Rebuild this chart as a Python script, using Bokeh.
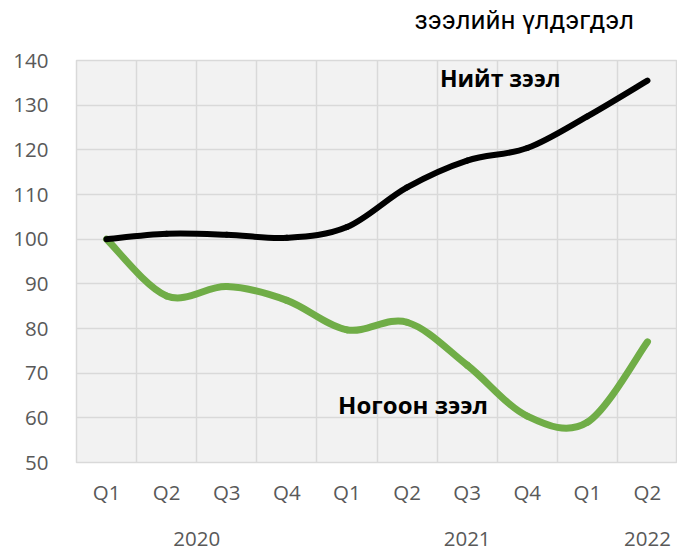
import numpy as np
from bokeh.plotting import figure
from bokeh.models import (Range1d, FixedTicker, LinearAxis, Label, ColumnDataSource)
from bokeh.embed import file_html
from bokeh.resources import INLINE

# ---- data ----
quarters = ["Q1", "Q2", "Q3", "Q4", "Q1", "Q2", "Q3", "Q4", "Q1", "Q2"]
years = ["2020", "2021", "2022"]
year_pos = [2.0, 6.5, 9.5]
total_loans = [100, 101.2, 101.0, 100.3, 102.7, 111.6, 117.6, 120.4, 127.5, 135.5]
green_loans = [100, 87.3, 89.4, 86.3, 79.7, 81.4, 71.8, 60.4, 59.0, 77.0]
title_text = "зээлийн үлдэгдэл"
title_pos = 7.45
label_total = "Нийт зээл"
label_green = "Ногоон зээл"

xs = np.arange(len(quarters)) + 0.5


def smooth_segments(x, y):
    x = np.asarray(x, float)
    y = np.asarray(y, float)
    n = len(y)
    d = dict(x0=[], y0=[], x1=[], y1=[], cx0=[], cy0=[], cx1=[], cy1=[])
    for i in range(n - 1):
        im = max(i - 1, 0)
        ip = min(i + 2, n - 1)
        d["x0"].append(x[i]); d["y0"].append(y[i])
        d["x1"].append(x[i + 1]); d["y1"].append(y[i + 1])
        d["cx0"].append(x[i] + (x[i + 1] - x[im]) / 6)
        d["cy0"].append(y[i] + (y[i + 1] - y[im]) / 6)
        d["cx1"].append(x[i + 1] - (x[ip] - x[i]) / 6)
        d["cy1"].append(y[i + 1] - (y[ip] - y[i]) / 6)
    return ColumnDataSource(d)


p = figure(width=677, height=551, output_backend="svg", toolbar_location=None,
           x_range=Range1d(0, 10), y_range=Range1d(50, 140),
           min_border_left=76, min_border_right=0, min_border_top=60,
           min_border_bottom=89, x_axis_location=None, y_axis_location=None)
p.border_fill_color = "white"
p.background_fill_color = "#f2f2f2"
p.outline_line_color = "#d9d9d9"
p.outline_line_width = 1.5


def plain_axis(ticks, labels, standoff, font, size, color, style="normal"):
    ax = LinearAxis(ticker=FixedTicker(ticks=list(ticks)))
    if labels is not None:
        ax.major_label_overrides = {float(v): s for v, s in zip(ticks, labels)}
    ax.axis_line_color = None
    ax.major_tick_line_color = None
    ax.minor_tick_line_color = None
    ax.major_label_standoff = standoff
    ax.major_label_text_font = font
    ax.major_label_text_font_size = size
    ax.major_label_text_color = color
    ax.major_label_text_font_style = style
    return ax


AX_FONT = "Open Sans"
AX_SIZE = "20.5px"
AX_COLOR = "#595959"

# title as a single-label axis above the frame
p.add_layout(plain_axis([title_pos], [title_text], 20, "Roboto", "26px", "#000000"), "above")

# y axis
p.add_layout(plain_axis(range(50, 141, 10), None, 22, AX_FONT, AX_SIZE, AX_COLOR), "left")

# x axes: quarters and years
p.add_layout(plain_axis(xs, quarters, 9, AX_FONT, AX_SIZE, AX_COLOR), "below")
p.add_layout(plain_axis(year_pos, years, 17, AX_FONT, AX_SIZE, AX_COLOR), "below")

# grids
p.xgrid.ticker = FixedTicker(ticks=list(range(0, 11)))
p.ygrid.ticker = FixedTicker(ticks=list(range(50, 141, 10)))
p.xgrid.grid_line_color = "#d9d9d9"
p.ygrid.grid_line_color = "#d9d9d9"
p.xgrid.grid_line_width = 1.5
p.ygrid.grid_line_width = 1.5

# lines
gsrc = smooth_segments(xs, green_loans)
p.bezier(x0="x0", y0="y0", x1="x1", y1="y1", cx0="cx0", cy0="cy0",
         cx1="cx1", cy1="cy1", source=gsrc, line_color="#70ad47",
         line_width=7, line_cap="round")
tsrc = smooth_segments(xs, total_loans)
p.bezier(x0="x0", y0="y0", x1="x1", y1="y1", cx0="cx0", cy0="cy0",
         cx1="cx1", cy1="cy1", source=tsrc, line_color="#000000",
         line_width=6, line_cap="round")

# labels
p.add_layout(Label(x=7.05, y=136.0, text=label_total, text_font="Open Sans",
                   text_font_size="23px", text_font_style="bold",
                   text_align="center", text_baseline="middle",
                   text_color="#000000"))
p.add_layout(Label(x=5.6, y=63.0, text=label_green, text_font="Open Sans",
                   text_font_size="24px", text_font_style="bold",
                   text_align="center", text_baseline="middle",
                   text_color="#000000"))

open("out.html", "w").write(file_html(p, INLINE))
